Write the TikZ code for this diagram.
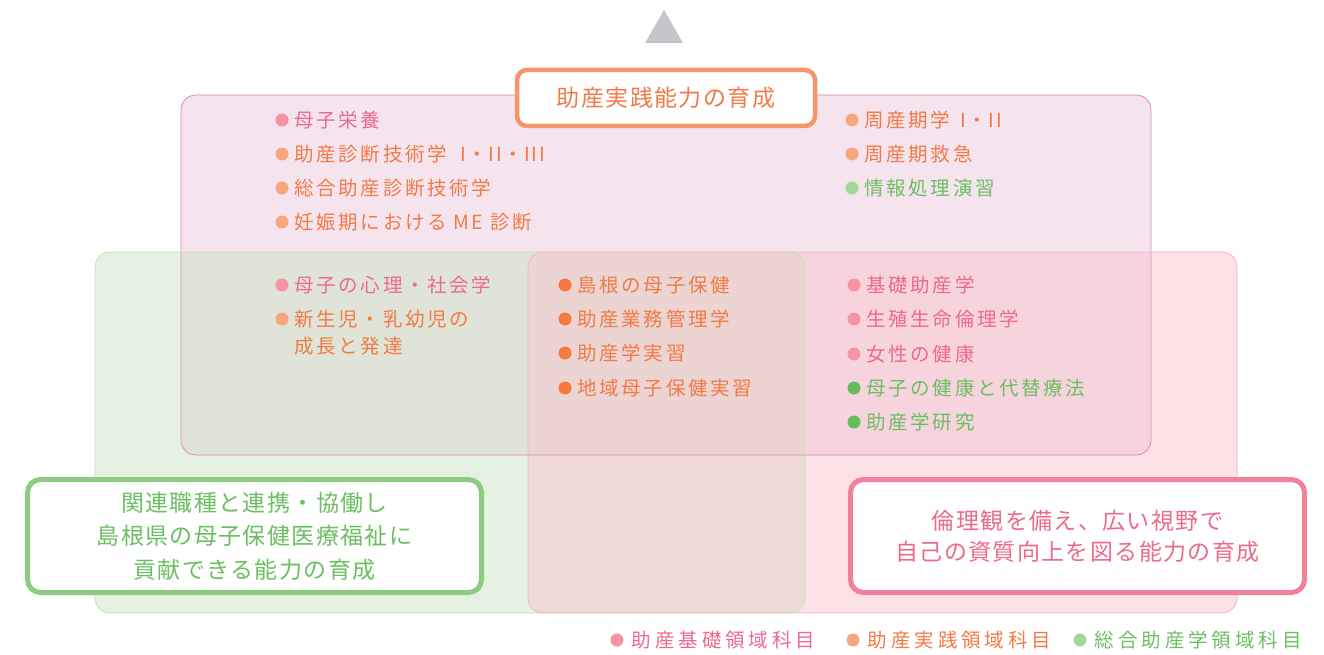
\documentclass[tikz,border=0pt]{standalone}
\usepackage{fontspec}
\setmainfont{Noto Sans CJK JP}
\newfontfamily\subjfamily[LetterSpace=13]{Noto Sans CJK JP}
\newfontfamily\goalfamily[LetterSpace=6]{Noto Sans CJK JP}
\newfontfamily\keyfamily[LetterSpace=20]{Noto Sans CJK JP}
\usetikzlibrary{positioning}
\pgfdeclarelayer{background}
\pgfdeclarelayer{foreground}
\pgfsetlayers{background,main,foreground}

\definecolor{apexgray}{HTML}{C4C5C9}
\definecolor{topfill}{HTML}{F5E4EE}
\definecolor{topline}{HTML}{D887BE}
\definecolor{greenfill}{HTML}{CDE5C3}
\definecolor{greenline}{HTML}{C3E0BA}
\definecolor{pinkfill}{HTML}{F9C5CD}
\definecolor{pinkline}{HTML}{F2B3C0}
\definecolor{kisotext}{HTML}{EC6A8A}
\definecolor{kisodot}{HTML}{F594A3}
\definecolor{kisoline}{HTML}{F08198}
\definecolor{jissentext}{HTML}{F27A46}
\definecolor{jissendot}{HTML}{F7A77B}
\definecolor{jissendeep}{HTML}{F47A3D}
\definecolor{jissenline}{HTML}{F7956A}
\definecolor{sogotext}{HTML}{6CBE62}
\definecolor{sogodot}{HTML}{A6D69B}
\definecolor{sogodeep}{HTML}{66BC5C}
\definecolor{sogoline}{HTML}{8DCB82}

\tikzset{
  area/.style={rounded corners=15pt, line width=0.8pt},
  subjdot/.style={circle, inner sep=0pt, minimum size=13pt},
  subj/.style={inner sep=0pt, font=\subjfamily\fontsize{19.5}{27}\selectfont},
  goalbox/.style={draw, fill=white, line width=5pt, rounded corners=13pt, inner sep=0pt, align=center, font=\goalfamily\fontsize{23}{33.5}\selectfont},
  keytext/.style={inner sep=0pt, font=\keyfamily\fontsize{19.5}{24}\selectfont}
}
\newcommand{\numerals}[1]{{\addfontfeature{LetterSpace=8}#1}}

\begin{document}
\begin{tikzpicture}[x=1pt,y=-1pt]
\useasboundingbox (0,0) rectangle (1324,655);
% apex mark
\fill[apexgray] (645,43) -- (664,10) -- (683,43) -- cycle;
\begin{pgfonlayer}{background}
\fill[topfill, area] (181,95) rectangle (1151,455);
\fill[greenfill, fill opacity=0.5, area] (95,252) rectangle (805,613);
\fill[pinkfill, fill opacity=0.5, area] (528,252) rectangle (1237,613);
\draw[topline, area] (181,95) rectangle (1151,455);
\draw[greenline, area] (95,252) rectangle (805,613);
\draw[pinkline, area] (528,252) rectangle (1237,613);
\end{pgfonlayer}
% aims
\node[goalbox, draw=jissenline, text=jissentext, line width=4.5pt, rounded corners=10pt, minimum width=298pt, minimum height=56pt] (jissenaim) at (666,98) {助産実践能力の育成};
\node[goalbox, draw=sogoline, text=sogotext, minimum width=454pt, minimum height=113pt] (sogoaim) at (254.5,536) {関連職種と連携・協働し\\島根県の母子保健医療福祉に\\貢献できる能力の育成};
\node[goalbox, draw=kisoline, text=kisotext, font=\goalfamily\fontsize{23}{31}\selectfont, minimum width=454pt, minimum height=113pt] (kisoaim) at (1077.5,536) {倫理観を備え、広い視野で\\自己の資質向上を図る能力の育成};
% top left
\node[subjdot, fill=kisodot] (d1) at (282,120) {};
\node[subj, text=kisotext, right=6pt of d1] (s1) {母子栄養};
\node[subjdot, fill=jissendot] (d2) at (282,154) {};
\node[subj, text=jissentext, right=6pt of d2] (s2) {助産診断技術学\hspace{14pt}\numerals{I・II・III}};
\node[subjdot, fill=jissendot] (d3) at (282,188) {};
\node[subj, text=jissentext, right=6pt of d3] (s3) {総合助産診断技術学};
\node[subjdot, fill=jissendot] (d4) at (282,222) {};
\node[subj, text=jissentext, right=6pt of d4] (s4) {妊娠期における ME 診断};
% top right
\node[subjdot, fill=jissendot] (d5) at (852,120) {};
\node[subj, text=jissentext, right=6pt of d5] (s5) {周産期学\hspace{10pt}\numerals{I・II}};
\node[subjdot, fill=jissendot] (d6) at (852,154) {};
\node[subj, text=jissentext, right=6pt of d6] (s6) {周産期救急};
\node[subjdot, fill=sogodot] (d7) at (852,188) {};
\node[subj, text=sogotext, right=6pt of d7] (s7) {情報処理演習};
% middle left
\node[subjdot, fill=kisodot] (d8) at (282,285) {};
\node[subj, text=kisotext, right=6pt of d8] (s8) {母子の心理・社会学};
\node[subjdot, fill=jissendot] (d9) at (282,319) {};
\node[subj, text=jissentext, right=6pt of d9] (s9) {新生児・乳幼児の};
\node[subj, text=jissentext, below=27pt of s9.west, anchor=west] (s9b) {成長と発達};
% middle centre
\node[subjdot, fill=jissendeep] (d10) at (565,285) {};
\node[subj, text=jissentext, right=6pt of d10] (s10) {島根の母子保健};
\node[subjdot, fill=jissendeep] (d11) at (565,319) {};
\node[subj, text=jissentext, right=6pt of d11] (s11) {助産業務管理学};
\node[subjdot, fill=jissendeep] (d12) at (565,353) {};
\node[subj, text=jissentext, right=6pt of d12] (s12) {助産学実習};
\node[subjdot, fill=jissendeep] (d13) at (565,388) {};
\node[subj, text=jissentext, right=6pt of d13] (s13) {地域母子保健実習};
% middle right
\node[subjdot, fill=kisodot] (d14) at (854,285) {};
\node[subj, text=kisotext, right=6pt of d14] (s14) {基礎助産学};
\node[subjdot, fill=kisodot] (d15) at (854,319) {};
\node[subj, text=kisotext, right=6pt of d15] (s15) {生殖生命倫理学};
\node[subjdot, fill=kisodot] (d16) at (854,354) {};
\node[subj, text=kisotext, right=6pt of d16] (s16) {女性の健康};
\node[subjdot, fill=sogodeep] (d17) at (854,388) {};
\node[subj, text=sogotext, right=6pt of d17] (s17) {母子の健康と代替療法};
\node[subjdot, fill=sogodeep] (d18) at (854,422) {};
\node[subj, text=sogotext, right=6pt of d18] (s18) {助産学研究};
% legend
\node[subjdot, fill=kisodot] (k1) at (617,640) {};
\node[keytext, text=kisotext, right=8pt of k1] (kt1) {助産基礎領域科目};
\node[subjdot, fill=jissendot] (k2) at (853,640) {};
\node[keytext, text=jissentext, right=8pt of k2] (kt2) {助産実践領域科目};
\node[subjdot, fill=sogodot] (k3) at (1080,640) {};
\node[keytext, text=sogotext, right=8pt of k3] (kt3) {総合助産学領域科目};
\end{tikzpicture}
\end{document}
